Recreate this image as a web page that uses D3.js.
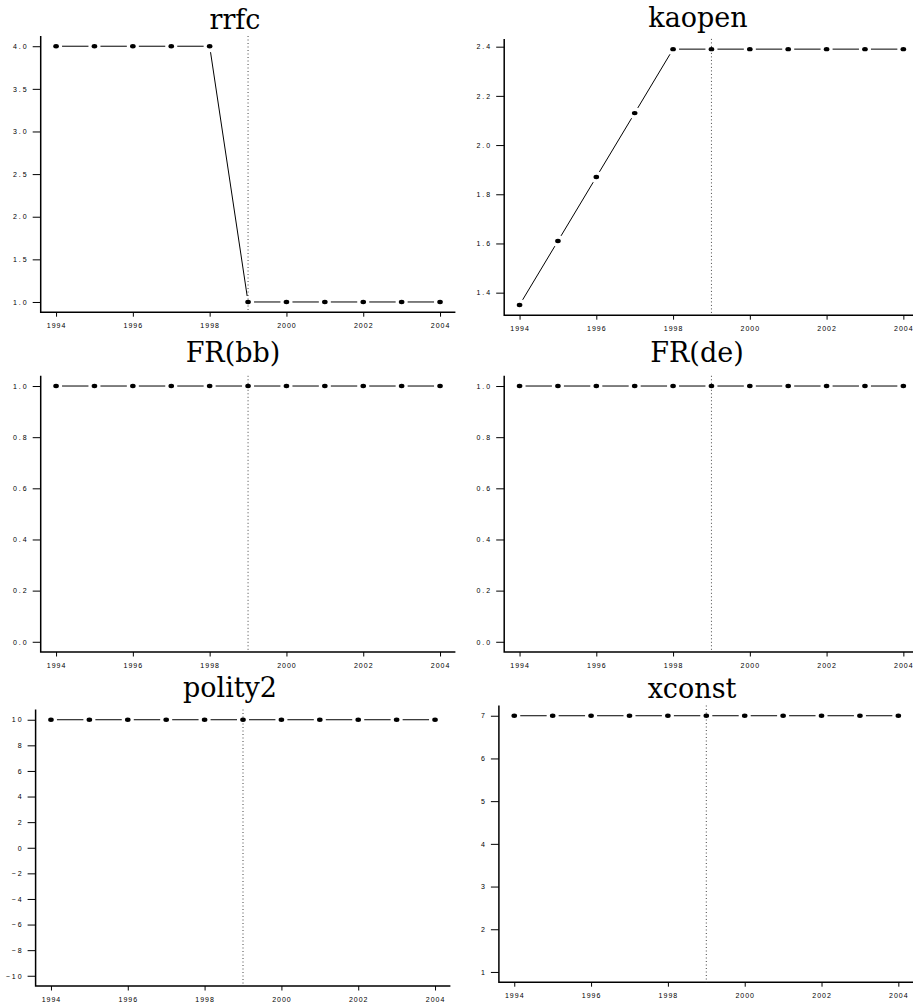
<!DOCTYPE html>
<html>
<head>
<meta charset="utf-8">
<script src="https://cdn.jsdelivr.net/npm/d3@7"></script>
<style>
  html, body { margin: 0; padding: 0; background: #fff; }
  svg { display: block; }
  .ytick text { font-family: "Liberation Sans", Arial, sans-serif; font-size: 7px; letter-spacing: 2px; fill: #000; }
  .xtick text { font-family: "Liberation Sans", Arial, sans-serif; font-size: 7px; letter-spacing: 1px; fill: #000; }
</style>
</head>
<body>
<script>
// ---- data ----
const years = [1994, 1995, 1996, 1997, 1998, 1999, 2000, 2001, 2002, 2003, 2004];
const rrfc    = [4, 4, 4, 4, 4, 1, 1, 1, 1, 1, 1];
const kaopen  = [1.35, 1.61, 1.87, 2.13, 2.39, 2.39, 2.39, 2.39, 2.39, 2.39, 2.39];
const frbb    = [1, 1, 1, 1, 1, 1, 1, 1, 1, 1, 1];
const frde    = [1, 1, 1, 1, 1, 1, 1, 1, 1, 1, 1];
const polity2 = [10, 10, 10, 10, 10, 10, 10, 10, 10, 10, 10];
const xconst  = [7, 7, 7, 7, 7, 7, 7, 7, 7, 7, 7];

const titles = ["rrfc", "kaopen", "FR(bb)", "FR(de)", "polity2", "xconst"];
const series = [rrfc, kaopen, frbb, frde, polity2, xconst];
const yLimits = [[1, 4], [1.35, 2.39], [0, 1], [0, 1], [-10, 10], [1, 7]];
const yTicks = [
  [1.0, 1.5, 2.0, 2.5, 3.0, 3.5, 4.0],
  [1.4, 1.6, 1.8, 2.0, 2.2, 2.4],
  [0.0, 0.2, 0.4, 0.6, 0.8, 1.0],
  [0.0, 0.2, 0.4, 0.6, 0.8, 1.0],
  [-10, -8, -6, -4, -2, 0, 2, 4, 6, 8, 10],
  [1, 2, 3, 4, 5, 6, 7]
];
const yFormats = [".1f", ".1f", ".1f", ".1f", "d", "d"];
const xTicks = [1994, 1996, 1998, 2000, 2002, 2004];
const breakYear = 1999;

// ---- layout (plot regions in pixels) ----
const regions = [
  {left: 40.7, right: 455.4, top: 36.0,  bottom: 312.2, tx: 235, ty: 28.5},
  {left: 504.2, right: 918.7, top: 38.9, bottom: 315.2, tx: 698, ty: 26.5},
  {left: 40.7, right: 455.4, top: 375.8, bottom: 652.0, tx: 233, ty: 361.5},
  {left: 504.2, right: 918.7, top: 375.8, bottom: 652.0, tx: 697, ty: 361.5},
  {left: 35.6, right: 450.4, top: 709.5, bottom: 986.0, tx: 230, ty: 697},
  {left: 498.9, right: 913.7, top: 705.5, bottom: 982.2, tx: 692, ty: 697.5}
];

const W = 913, H = 1007;
const svg = d3.select("body").append("svg").attr("width", W).attr("height", H);

const xExt = [years[0], years[years.length - 1]];
const xPad = (xExt[1] - xExt[0]) * 0.04;

regions.forEach((r, i) => {
  const g = svg.append("g");
  const yl = yLimits[i];
  const yPad = (yl[1] - yl[0]) * 0.04;
  const x = d3.scaleLinear().domain([xExt[0] - xPad, xExt[1] + xPad]).range([r.left, r.right]);
  const y = d3.scaleLinear().domain([yl[0] - yPad, yl[1] + yPad]).range([r.bottom, r.top]);

  // title
  g.append("text")
    .attr("x", r.tx).attr("y", r.ty).attr("text-anchor", "middle")
    .attr("font-family", "'DejaVu Serif', 'Liberation Serif', serif")
    .attr("font-size", 27)
    .attr("fill", "#000")
    .text(titles[i]);

  // y axis ticks
  const fmt = d3.format(yFormats[i]);
  const ya = g.append("g").attr("class", "ytick")
    .attr("transform", `translate(${r.left},0)`)
    .call(d3.axisLeft(y).tickValues(yTicks[i]).tickSize(8).tickPadding(4).tickFormat(fmt));
  ya.select(".domain").remove();
  ya.selectAll(".tick line").attr("stroke", "#000").attr("stroke-width", 1);

  // x axis ticks
  const xa = g.append("g").attr("class", "xtick")
    .attr("transform", `translate(0,${r.bottom})`)
    .call(d3.axisBottom(x).tickValues(xTicks).tickSize(4.5).tickPadding(6.5).tickFormat(d3.format("d")));
  xa.select(".domain").remove();
  xa.selectAll(".tick line").attr("stroke", "#000").attr("stroke-width", 1);

  // L-shaped box
  g.append("path")
    .attr("d", `M${r.left},${r.top}V${r.bottom}H${r.right}`)
    .attr("fill", "none").attr("stroke", "#000").attr("stroke-width", 1.5);

  // vertical dotted line at break year
  g.append("line")
    .attr("x1", x(breakYear)).attr("x2", x(breakYear))
    .attr("y1", r.top).attr("y2", r.bottom)
    .attr("stroke", "#444").attr("stroke-width", 1)
    .attr("stroke-dasharray", "1,2.5");

  // line segments with gaps (type = "b")
  const vals = series[i];
  const gap = 6;
  const segs = [];
  for (let k = 0; k < years.length - 1; k++) {
    const x0 = x(years[k]), y0 = y(vals[k]);
    const x1 = x(years[k + 1]), y1 = y(vals[k + 1]);
    const len = Math.hypot(x1 - x0, y1 - y0);
    if (len > 2 * gap) {
      const ux = (x1 - x0) / len, uy = (y1 - y0) / len;
      segs.push([x0 + ux * gap, y0 + uy * gap, x1 - ux * gap, y1 - uy * gap]);
    }
  }
  g.selectAll("line.seg").data(segs).enter().append("line")
    .attr("class", "seg")
    .attr("x1", d => d[0]).attr("y1", d => d[1])
    .attr("x2", d => d[2]).attr("y2", d => d[3])
    .attr("stroke", "#000").attr("stroke-width", 1);

  // points
  g.selectAll("ellipse").data(years).enter().append("ellipse")
    .attr("cx", (d) => x(d))
    .attr("cy", (d, k) => y(vals[k]))
    .attr("rx", 2.8).attr("ry", 2.2)
    .attr("fill", "#000");
});
</script>
</body>
</html>
